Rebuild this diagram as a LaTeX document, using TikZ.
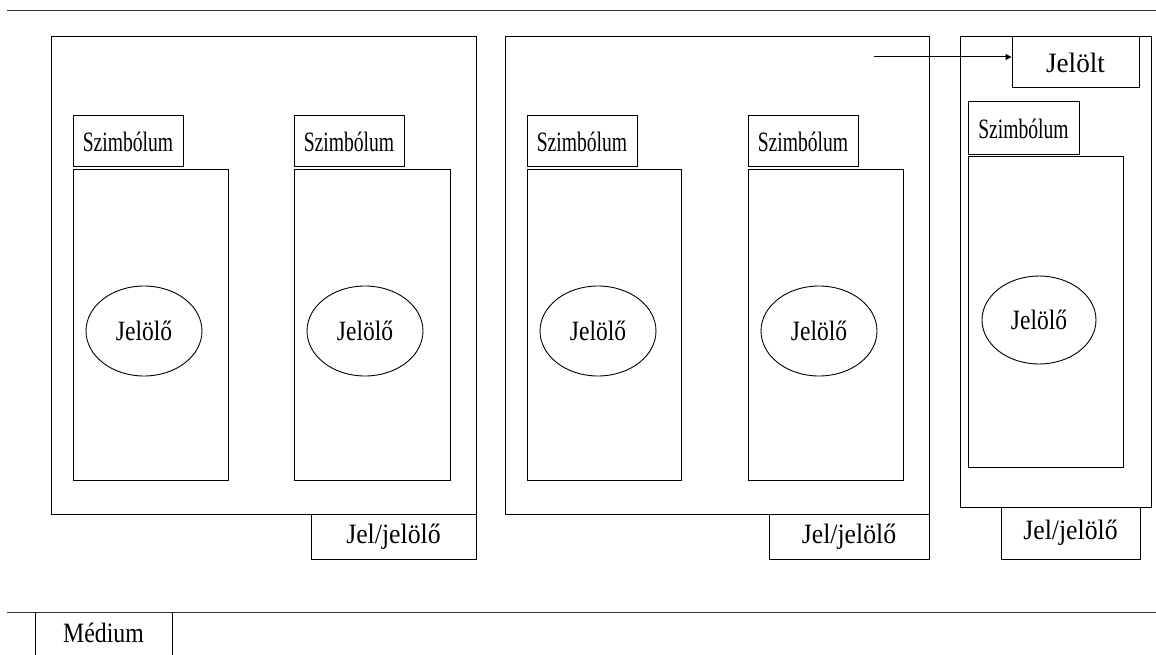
\documentclass[tikz,border=0pt]{standalone}
\usepackage{fontspec}
\setmainfont{Liberation Serif}
\usepackage{graphicx}
\usetikzlibrary{arrows.meta,shapes.geometric}
\newcommand{\lbl}[2]{\scalebox{#1}[1]{#2}}
\tikzset{
  frame/.style={draw, line width=1pt, inner sep=0pt, rectangle},
  txt/.style={font=\fontsize{28pt}{32pt}\selectfont},
  oval/.style={draw, line width=0.9pt, ellipse, inner sep=0pt},
  rule/.style={line width=1pt, draw=black!80},
}
\newcommand{\boxat}[6]{% name, x1, y1, x2, y2, text
  \node[frame, txt, minimum width={(#4-#2)*1pt}, minimum height={(#5-#3)*1pt}] (#1) at ({(#2+#4)/2},{(#3+#5)/2}) {#6};}
\newcommand{\ellat}[5]{% name, cx, cy, rx, ry
  \node[oval, txt, minimum width={2*#4*1pt}, minimum height={2*#5*1pt}] (#1) at (#2,#3) {\lbl{0.84}{Jelölő}};}
\newcommand{\szim}{\lbl{0.70}{Szimbólum}}
\newcommand{\jj}{\lbl{0.92}{Jel/jelölő}}
\begin{document}
\begin{tikzpicture}[x=1pt,y=-1pt]
\useasboundingbox (0,0) rectangle (1156,655);
% rules
\coordinate (tl) at (7,11);
\coordinate (tr) at (1156,11);
\coordinate (bl) at (7,612);
\coordinate (br) at (1156,612);
\draw[rule] (tl) -- (tr);
\draw[rule] (bl) -- (br);
% group 1
\boxat{outerA}{51}{37}{476}{514}{}
\boxat{symA}{73}{116}{183}{167}{\szim}
\boxat{inA}{73}{170}{228}{480}{}
\ellat{ellA}{144}{331}{58}{45}
\boxat{symB}{294}{116}{404}{167}{\szim}
\boxat{inB}{294}{170}{450}{480}{}
\ellat{ellB}{365}{331}{58}{45}
\boxat{jjA}{311}{514}{476}{559}{\jj}
% group 2
\boxat{outerB}{505}{37}{929}{514}{}
\boxat{symC}{527}{116}{637}{167}{\szim}
\boxat{inC}{527}{170}{681}{480}{}
\ellat{ellC}{598}{331}{58}{45}
\boxat{symD}{748}{116}{858}{167}{\szim}
\boxat{inD}{748}{170}{903}{480}{}
\ellat{ellD}{819}{331}{58}{45}
\boxat{jjB}{769}{514}{929}{559}{\jj}
% group 3
\boxat{outerC}{960}{37}{1151}{507}{}
\boxat{jelolt}{1012}{37}{1139}{88}{\lbl{0.97}{Jelölt}}
\boxat{symE}{968}{102}{1079}{155}{\szim}
\boxat{inE}{968}{157}{1123}{467}{}
\ellat{ellE}{1039}{320}{57}{44}
\boxat{jjC}{1001}{507}{1140}{559}{\jj}
% arrow
\coordinate (arrS) at (874,57);
\draw[line width=1pt, -{Triangle[length=6pt,width=6pt]}] (arrS) -- (jelolt.west |- arrS);
% medium
\node[txt] (medium) at (103.5,633) {\lbl{0.85}{Médium}};
\coordinate (mlt) at (35,612);
\coordinate (mlb) at (35,655);
\coordinate (mrt) at (172,612);
\coordinate (mrb) at (172,655);
\draw[line width=1pt] (mlt) -- (mlb);
\draw[line width=1pt] (mrt) -- (mrb);
\end{tikzpicture}
\end{document}
